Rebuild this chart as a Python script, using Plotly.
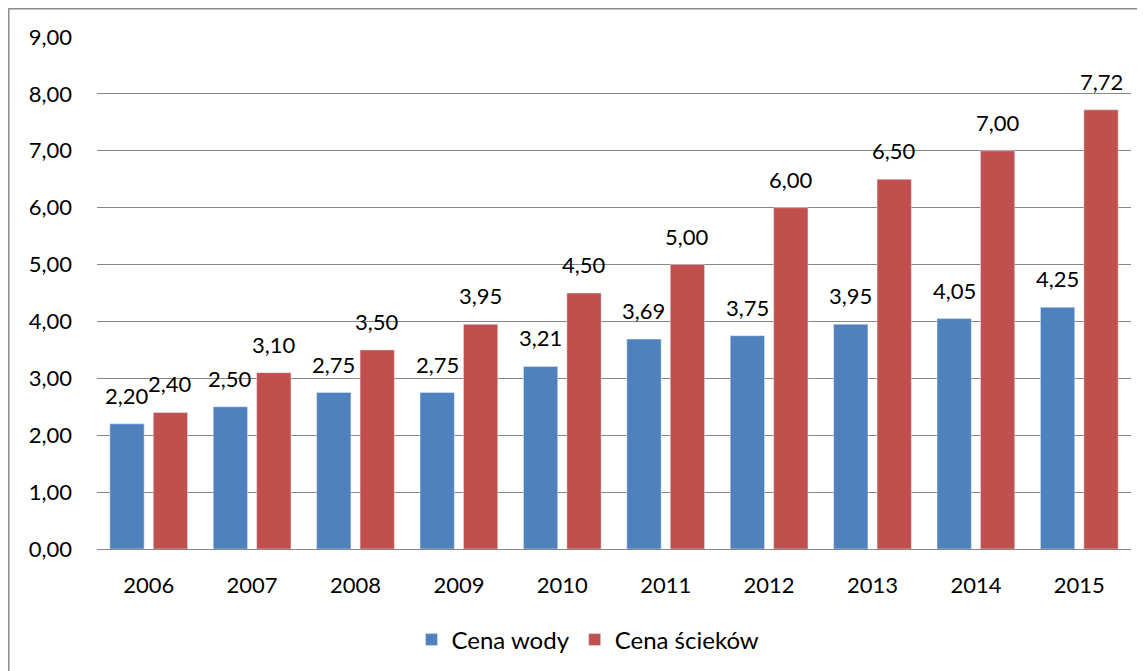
import plotly.graph_objects as go

years = ["2006", "2007", "2008", "2009", "2010", "2011", "2012", "2013", "2014", "2015"]
cena_wody = [2.20, 2.50, 2.75, 2.75, 3.21, 3.69, 3.75, 3.95, 4.05, 4.25]
cena_sciekow = [2.40, 3.10, 3.50, 3.95, 4.50, 5.00, 6.00, 6.50, 7.00, 7.72]

FONT = "Lato"
FS = 22
OFF = 8  # page body margin
W, H = 1145 - OFF, 671 - OFF
L, R, T, B = 97 - OFF, 14, 37 - OFF, 122
pw, ph = W - L - R, H - T - B
slot = pw / len(years) * (1 - 0.16) / 2

fig = go.Figure()
annotations = []
series = [("Cena wody", cena_wody, "#4F81BD", -1), ("Cena ścieków", cena_sciekow, "#C0504D", 1)]
for name, vals, col, side in series:
    fig.add_trace(go.Bar(x=years, y=vals, name=name, marker_color=col))
    for i, v in enumerate(vals):
        annotations.append(dict(x=i, y=v, xref="x", yref="y", text=f"{v:.2f}".replace(".", ","),
                                showarrow=False, xshift=side * slot / 2, yshift=13,
                                yanchor="bottom", xanchor="center",
                                font=dict(size=FS, color="black", family=FONT)))


def px(x):
    return (x - OFF - L) / pw


def py(y):
    return (H - B - (y - OFF)) / ph


fig.update_layout(
    width=W, height=H,
    margin=dict(l=L, r=R, t=T, b=B, autoexpand=False),
    separators=", ",
    paper_bgcolor="white", plot_bgcolor="white",
    font=dict(family=FONT, size=FS, color="black"),
    bargap=0.16, bargroupgap=0.21,
    annotations=annotations,
    legend=dict(orientation="h", x=px(588), xanchor="center", y=py(640), yanchor="middle",
                font=dict(size=24, family=FONT), traceorder="normal"),
    xaxis=dict(type="category", range=[-0.5, len(years) - 0.5], showgrid=False, showline=False,
               ticks="", ticklabelstandoff=21, tickfont=dict(size=FS)),
    yaxis=dict(range=[0, 9], dtick=1, tickformat=".2f", showgrid=True, gridcolor="#868686",
               gridwidth=1, zeroline=True, zerolinecolor="#868686", zerolinewidth=1,
               showline=False, ticks="", ticklabelstandoff=24, tickfont=dict(size=FS)),
    shapes=[
        dict(type="line", xref="paper", yref="paper",
             x0=px(8.5), x1=px(1160), y0=py(8.8), y1=py(8.8),
             line=dict(color="#888888", width=1.5)),
        dict(type="line", xref="paper", yref="paper",
             x0=px(8.8), x1=px(8.8), y0=py(8.5), y1=py(700),
             line=dict(color="#888888", width=1.5)),
    ],
)
fig.write_html("out.html")
